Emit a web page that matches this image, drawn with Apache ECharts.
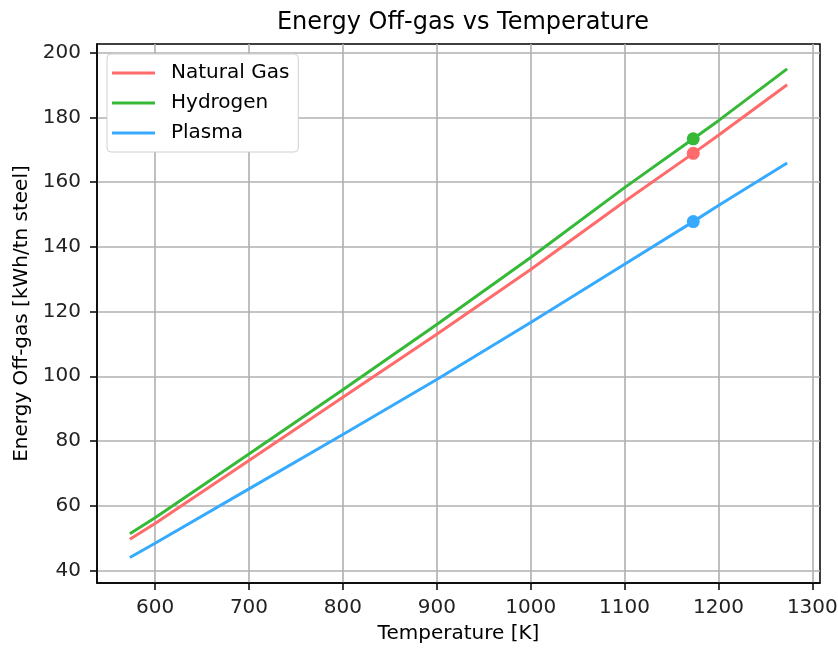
<!DOCTYPE html>
<html>
<head>
<meta charset="utf-8">
<script src="https://cdn.jsdelivr.net/npm/echarts@6/dist/echarts.min.js"></script>
<style>
  html, body { margin: 0; padding: 0; background: #fff; }
  #chart { width: 838px; height: 648px; }
</style>
</head>
<body>
<div id="chart"></div>
<script>
// temperature samples [K]
const temps = [573.15, 600, 700, 800, 900, 1000, 1100, 1173.15, 1200, 1273.15];
const naturalGas = [49.6, 54.5, 74.0, 93.5, 113.0, 133.0, 154.0, 168.9, 174.5, 190.1];
const hydrogen = [51.3, 56.3, 76.0, 95.8, 116.0, 136.7, 158.3, 173.4, 179.0, 195.0];
const plasma = [44.0, 48.4, 65.2, 82.0, 99.0, 116.6, 134.6, 147.8, 152.8, 165.9];

// operating point markers
const markerT = 1173.15;
const markerValues = [168.9, 173.4, 147.8];

const xTicks = [600, 700, 800, 900, 1000, 1100, 1200, 1300];
const yTicks = [40, 60, 80, 100, 120, 140, 160, 180, 200];

const names = ["Natural Gas", "Hydrogen", "Plasma"];
const colors = ["#ff6b6b", "#36b936", "#36aaff"];
const seriesData = [naturalGas, hydrogen, plasma];

const font = "DejaVu Sans";

const lines = seriesData.map((vals, i) => ({
  name: names[i],
  type: "line",
  symbol: "none",
  data: temps.map((t, j) => [t, vals[j]]),
  lineStyle: { color: colors[i], width: 3 },
  itemStyle: { color: colors[i] },
  z: 3,
}));

const dots = markerValues.map((v, i) => ({
  name: names[i] + " point",
  type: "scatter",
  symbol: "circle",
  symbolSize: 13,
  data: [[markerT, v]],
  itemStyle: { color: colors[i], opacity: 1 },
  z: 4,
}));

const myChart = echarts.init(document.getElementById("chart"));
myChart.setOption({
  animation: false,
  textStyle: { fontFamily: font },
  title: {
    text: "Energy Off-gas vs Temperature",
    left: 458,
    textAlign: "center",
    top: 6,
    textStyle: { fontFamily: font, fontSize: 24, fontWeight: "normal", color: "#000" },
  },
  legend: {
    data: names.map((n) => ({ name: n, icon: "rect" })),
    orient: "vertical",
    left: 107,
    top: 54,
    itemWidth: 43,
    itemHeight: 3,
    itemGap: 10,
    padding: [9, 9, 9, 5],
    backgroundColor: "#fff",
    borderColor: "#d0d0d0",
    borderWidth: 1,
    borderRadius: 4,
    textStyle: { fontFamily: font, fontSize: 20, color: "#000", padding: [0, 0, 0, 11] },
  },
  grid: {
    left: 97, right: 18, top: 44, bottom: 65,
    containLabel: false,
    outerBoundsMode: "none",
    show: true,
    borderColor: "#000",
    borderWidth: 1.5,
  },
  xAxis: {
    type: "value",
    min: 538.15,
    max: 1308.15,
    name: "Temperature [K]",
    nameLocation: "middle",
    nameGap: 41,
    nameTextStyle: { fontFamily: font, fontSize: 20, color: "#000" },
    axisLine: { show: true, onZero: false, lineStyle: { color: "#000", width: 1.5 } },
    axisTick: { show: true, customValues: xTicks, length: 7, lineStyle: { color: "#000", width: 1.5 } },
    axisLabel: {
      customValues: xTicks, margin: 15, fontFamily: font, fontSize: 20, color: "#222",
      formatter: (v) => String(v),
    },
    splitLine: { show: true, lineStyle: { color: "#b0b0b0", width: 1.6 } },
  },
  yAxis: {
    type: "value",
    min: 36.1,
    max: 202.7,
    name: "Energy Off-gas [kWh/tn steel]",
    nameLocation: "middle",
    nameGap: 63,
    nameTextStyle: { fontFamily: font, fontSize: 20, color: "#000" },
    axisLine: { show: true, onZero: false, lineStyle: { color: "#000", width: 1.5 } },
    axisTick: { show: true, customValues: yTicks, length: 7, lineStyle: { color: "#000", width: 1.5 } },
    axisLabel: {
      customValues: yTicks, margin: 16, fontFamily: font, fontSize: 20, color: "#222",
      formatter: (v) => String(v),
    },
    splitLine: { show: true, lineStyle: { color: "#b0b0b0", width: 1.6 } },
  },
  series: lines.concat(dots),
});
</script>
</body>
</html>
